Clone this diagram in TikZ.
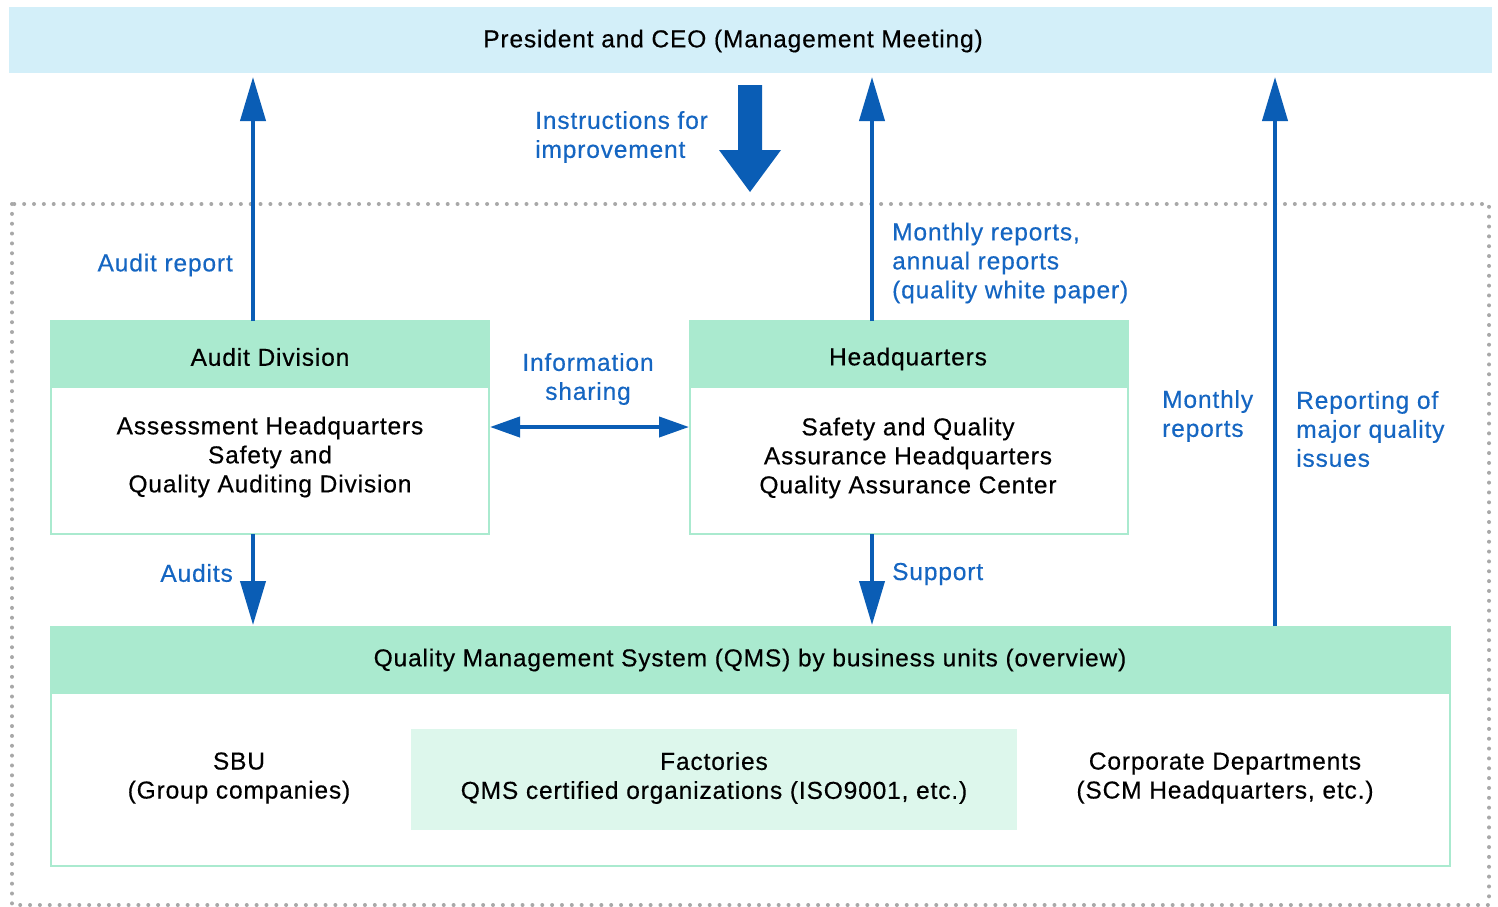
\documentclass[tikz,border=0pt]{standalone}
\usepackage{fontspec}
\setmainfont{Liberation Sans}[LetterSpace=3.5,FakeBold=0.4]
\usetikzlibrary{arrows.meta}
\definecolor{banner}{HTML}{D3EFF9}
\definecolor{hdr}{HTML}{AAEACF}
\definecolor{fact}{HTML}{DDF7EC}
\definecolor{arr}{HTML}{0A5DB5}
\definecolor{lbl}{HTML}{1566C2}
\definecolor{dotc}{HTML}{A8A8A8}
\tikzset{
  x=1pt, y=-1pt,
  txt/.style={font=\fontsize{24.5}{29}\selectfont, align=center, inner sep=0pt, text=black},
  lab/.style={font=\fontsize{24.5}{29}\selectfont, inner sep=0pt, text=lbl},
  boxframe/.style={draw=hdr, line width=2.5pt, fill=white},
  hdrfill/.style={fill=hdr},
  flow/.style={draw=arr, line width=4pt, -{Triangle[length=44pt,width=25pt]}},
  biflow/.style={draw=arr, line width=4pt, {Triangle[length=30pt,width=20pt]}-{Triangle[length=30pt,width=20pt]}},
}
\begin{document}
\begin{tikzpicture}
\useasboundingbox (0,0) rectangle (1498,906);
\fill[white] (0,0) rectangle (1498,906);
% dotted frame
\draw[dotc, line width=4pt, line cap=round, dash pattern=on 0pt off 9.85pt] (12,204) rectangle (1489,905);
% banner
\fill[banner] (9,7) rectangle (1492,73);
\node[txt] (ceo) at (733,41) {President and CEO (Management Meeting)};
% Audit Division box
\draw[boxframe] (51,321) rectangle (489,534);
\fill[hdrfill] (51,321) rectangle (489,388);
\node[txt] (audh) at (270,357) {Audit Division};
\node[txt] (audb) at (270,457) {Assessment Headquarters\\Safety and\\Quality Auditing Division};
\coordinate (audtop) at (253,321);
\coordinate (audbot) at (253,534);
\coordinate (audright) at (490,427);
% Headquarters box
\draw[boxframe] (690,321) rectangle (1128,534);
\fill[hdrfill] (690,321) rectangle (1128,388);
\node[txt] (hqh) at (908,359) {Headquarters};
\node[txt] (hqb) at (908,458) {Safety and Quality\\Assurance Headquarters\\Quality Assurance Center};
\coordinate (hqtop) at (872,321);
\coordinate (hqbot) at (872,534);
\coordinate (hqleft) at (689,427);
% QMS box
\draw[boxframe] (51,627) rectangle (1450,866);
\fill[hdrfill] (51,627) rectangle (1450,694);
\node[txt] (qmsh) at (750,660) {Quality Management System (QMS) by business units (overview)};
\fill[fact] (411,729) rectangle (1017,830);
\node[txt] (sbu) at (239,778) {SBU\\(Group companies)};
\node[txt] (fac) at (714,778) {Factories\\QMS certified organizations (ISO9001, etc.)};
\node[txt] (corp) at (1225,778) {Corporate Departments\\(SCM Headquarters, etc.)};
% arrows
\coordinate (ceoA) at (253,77);
\coordinate (ceoB) at (872,77);
\coordinate (ceoC) at (1275,77);
\coordinate (qmsA) at (253,625);
\coordinate (qmsB) at (872,625);
\coordinate (qmsC) at (1275,626);
\draw[flow] (audtop) -- (ceoA);
\draw[flow] (hqtop) -- (ceoB);
\draw[flow] (qmsC) -- (ceoC);
\draw[flow] (audbot) -- (qmsA);
\draw[flow] (hqbot) -- (qmsB);
\draw[biflow] (audright) -- (hqleft);
% big instruction arrow
\fill[arr] (738,85) -- (762,85) -- (762,150) -- (781,150) -- (750,192) -- (719,150) -- (738,150) -- cycle;
% labels
\node[lab, align=left, anchor=west] (instr) at (535,137) {Instructions for\\improvement};
\node[lab, anchor=east] (audrep) at (233,265) {Audit report};
\node[lab, align=left, anchor=west] (monthly) at (892,263) {Monthly reports,\\annual reports\\(quality white paper)};
\node[lab, align=center] (info) at (588,379) {Information\\sharing};
\node[lab, align=left, anchor=west] (mrep) at (1162,416) {Monthly\\reports};
\node[lab, align=left, anchor=west] (major) at (1296,429) {Reporting of\\major quality\\issues};
\node[lab, anchor=east] (audits) at (233,573) {Audits};
\node[lab, anchor=west] (support) at (892,574) {Support};
\end{tikzpicture}
\end{document}
